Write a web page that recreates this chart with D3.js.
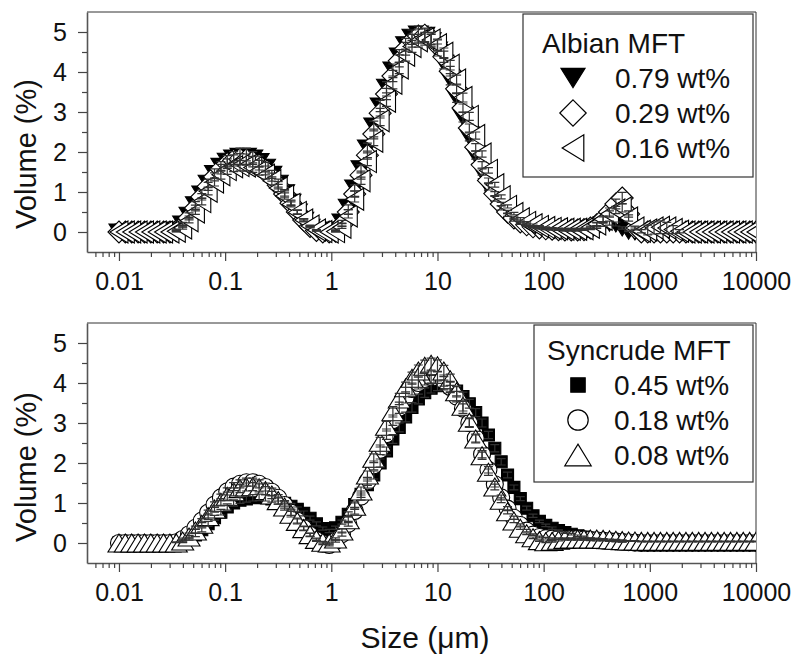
<!DOCTYPE html>
<html><head><meta charset="utf-8">
<script src="https://cdn.jsdelivr.net/npm/d3@7"></script>
<style>
body{margin:0;background:#fff;}
text{font-family:Arial,"Liberation Sans",sans-serif;fill:#111;}
</style>
</head><body>
<svg id="chart" width="798" height="656"></svg>
<script>
// ---- DATA ----
const sizes = [0.01,0.01148,0.01318,0.01514,0.01738,0.01995,0.02291,0.0263,0.0302,0.03467,
0.03981,0.04571,0.05248,0.06026,0.06918,0.07943,0.0912,0.1047,0.1202,0.138,
0.1585,0.182,0.2089,0.2399,0.2754,0.3162,0.3631,0.4169,0.4786,0.5495,
0.631,0.7244,0.8318,0.955,1.096,1.259,1.445,1.66,1.905,2.188,
2.512,2.884,3.311,3.802,4.365,5.012,5.754,6.607,7.586,8.71,
10,11.48,13.18,15.14,17.38,19.95,22.91,26.3,30.2,34.67,
39.81,45.71,52.48,60.26,69.18,79.43,91.2,104.7,120.2,138,
158.5,182,208.9,239.9,275.4,316.2,363.1,416.9,478.6,549.5,
631,724.4,831.8,955,1096,1259,1445,1660,1905,2188,
2512,2884,3311,3802,4365,5012,5754,6607,7586,8710,10000];

const albian079 = [0,0,0,0,0,0,0,0,0,0.05,
0.2,0.42,0.68,0.95,1.22,1.46,1.64,1.77,1.85,1.89,
1.89,1.85,1.76,1.62,1.44,1.22,0.98,0.74,0.5,0.29,
0.12,0.03,0,0,0.05,0.25,0.62,1.1,1.58,2.1,
2.65,3.15,3.62,4.05,4.4,4.68,4.87,4.95,4.92,4.78,
4.55,4.22,3.82,3.36,2.87,2.38,1.92,1.5,1.13,0.83,
0.6,0.43,0.3,0.22,0.16,0.12,0.1,0.08,0.07,0.06,
0.05,0.05,0.05,0.06,0.08,0.12,0.18,0.22,0.2,0.1,
0.02,0,0,0,0,0,0,0,0,0,
0,0,0,0,0,0,0,0,0,0,0];
const albian029 = [0,0,0,0,0,0,0,0,0,0.03,
0.15,0.35,0.6,0.88,1.14,1.38,1.57,1.71,1.79,1.82,
1.81,1.76,1.67,1.54,1.37,1.17,0.95,0.72,0.5,0.3,
0.14,0.04,0,0,0.02,0.18,0.5,0.95,1.42,1.92,
2.45,2.97,3.45,3.9,4.28,4.58,4.78,4.9,4.92,4.84,
4.66,4.38,4.02,3.58,3.1,2.6,2.12,1.68,1.29,0.96,
0.7,0.5,0.35,0.25,0.18,0.13,0.1,0.08,0.07,0.06,
0.05,0.05,0.05,0.06,0.1,0.18,0.32,0.5,0.7,0.85,
0.45,0.1,0,0,0,0,0,0,0,0,
0,0,0,0,0,0,0,0,0,0,0];
const albian016 = [0,0,0,0,0,0,0,0,0,0.02,
0.1,0.28,0.5,0.76,1.02,1.25,1.43,1.56,1.63,1.66,
1.65,1.61,1.53,1.42,1.28,1.1,0.9,0.69,0.49,0.3,
0.15,0.05,0.01,0,0.01,0.12,0.4,0.82,1.28,1.76,
2.27,2.78,3.27,3.72,4.1,4.42,4.64,4.78,4.83,4.8,
4.68,4.47,4.17,3.8,3.36,2.89,2.41,1.95,1.54,1.18,
0.88,0.64,0.46,0.33,0.24,0.18,0.14,0.11,0.09,0.08,
0.07,0.07,0.07,0.08,0.12,0.2,0.32,0.45,0.55,0.6,
0.35,0.1,0.02,0.05,0.1,0.12,0.1,0.06,0.02,0,
0,0,0,0,0,0,0,0,0,0,0];

const syncrude045 = [0,0,0,0,0,0,0,0,0,0,
0.03,0.1,0.2,0.33,0.48,0.63,0.77,0.9,1.0,1.07,
1.1,1.13,1.14,1.13,1.1,1.05,0.99,0.92,0.84,0.74,
0.62,0.48,0.36,0.3,0.38,0.52,0.72,0.96,1.22,1.46,
1.7,2.0,2.3,2.6,2.89,3.15,3.39,3.6,3.76,3.87,
3.93,3.95,3.9,3.8,3.66,3.48,3.26,3.0,2.7,2.37,
2.03,1.7,1.39,1.11,0.87,0.68,0.54,0.44,0.37,0.31,
0.26,0.22,0.18,0.15,0.12,0.1,0.08,0.06,0.05,0.04,
0.03,0.02,0.01,0,0,0,0,0,0,0,
0,0,0,0,0,0,0,0,0,0,0];
const syncrude018 = [0,0,0,0,0,0,0,0,0,0.02,
0.1,0.22,0.38,0.56,0.76,0.96,1.14,1.29,1.41,1.48,
1.52,1.52,1.48,1.4,1.28,1.13,0.95,0.76,0.56,0.37,
0.2,0.07,-0.02,-0.05,0.05,0.22,0.48,0.8,1.16,1.54,
1.94,2.33,2.72,3.07,3.38,3.64,3.85,4.0,4.1,4.15,
4.14,4.06,3.9,3.66,3.36,3.0,2.62,2.22,1.83,1.47,
1.14,0.86,0.63,0.45,0.31,0.21,0.15,0.12,0.11,0.11,
0.11,0.1,0.1,0.09,0.08,0.07,0.06,0.05,0.04,0.03,
0.02,0.01,0,0,0,0,0,0,0,0,
0,0,0,0,0,0,0,0,0,0,0];
const syncrude008 = [0,0,0,0,0,0,0,0,0,0,
0.05,0.15,0.3,0.47,0.66,0.85,1.02,1.17,1.28,1.36,
1.4,1.41,1.38,1.31,1.2,1.06,0.9,0.72,0.54,0.36,
0.21,0.09,0.02,0,0.1,0.3,0.58,0.92,1.3,1.7,
2.12,2.52,2.92,3.28,3.6,3.88,4.12,4.3,4.42,4.47,
4.43,4.3,4.08,3.78,3.42,3.02,2.6,2.18,1.77,1.4,
1.07,0.78,0.55,0.37,0.23,0.13,0.06,0.03,0.04,0.07,
0.09,0.1,0.1,0.1,0.1,0.1,0.09,0.08,0.07,0.06,
0.05,0.05,0.04,0.04,0.04,0.04,0.04,0.04,0.04,0.04,
0.04,0.04,0.04,0.04,0.04,0.04,0.04,0.04,0.04,0.04,0.04];

// error bar half-lengths
const errA079 = [0,0,0,0,0,0,0,0,0,0.02,
0.04,0.06,0.08,0.1,0.1,0.12,0.12,0.14,0.16,0.2,
0.2,0.16,0.14,0.12,0.1,0.1,0.08,0.06,0.05,0.04,
0.02,0.01,0,0,0.02,0.04,0.06,0.08,0.1,0.12,
0.12,0.14,0.14,0.15,0.16,0.16,0.18,0.2,0.18,0.16,
0.15,0.14,0.14,0.12,0.12,0.1,0.1,0.08,0.08,0.06,
0.05,0.04,0.03,0.03,0.02,0.02,0.02,0.02,0.02,0.02,
0.02,0.02,0.02,0.02,0.02,0.03,0.04,0.05,0.05,0.03,
0.01,0,0,0,0,0,0,0,0,0,
0,0,0,0,0,0,0,0,0,0,0];
const errA029 = [0,0,0,0,0,0,0,0,0,0.02,
0.03,0.05,0.07,0.08,0.1,0.1,0.12,0.12,0.14,0.14,
0.14,0.13,0.12,0.11,0.1,0.09,0.08,0.06,0.05,0.03,
0.02,0.01,0,0,0.02,0.04,0.06,0.08,0.1,0.1,
0.12,0.12,0.14,0.14,0.15,0.16,0.16,0.18,0.16,0.15,
0.14,0.14,0.12,0.12,0.1,0.1,0.09,0.08,0.06,0.05,
0.04,0.04,0.03,0.02,0.02,0.02,0.02,0.02,0.02,0.02,
0.02,0.02,0.02,0.02,0.03,0.05,0.08,0.1,0.12,0.14,
0.08,0.03,0,0,0,0,0,0,0,0,
0,0,0,0,0,0,0,0,0,0,0];
const errA016 = [0,0,0,0,0,0,0,0,0,0.02,
0.03,0.05,0.06,0.08,0.09,0.1,0.11,0.12,0.12,0.13,
0.13,0.12,0.11,0.1,0.1,0.09,0.08,0.06,0.05,0.03,
0.02,0.01,0,0,0.01,0.03,0.05,0.07,0.09,0.1,
0.11,0.12,0.13,0.14,0.14,0.15,0.15,0.16,0.16,0.15,
0.14,0.13,0.12,0.12,0.11,0.1,0.09,0.08,0.07,0.06,
0.05,0.04,0.03,0.03,0.02,0.02,0.02,0.02,0.02,0.02,
0.02,0.02,0.02,0.02,0.03,0.04,0.06,0.08,0.09,0.1,
0.08,0.05,0.04,0.12,0.15,0.16,0.14,0.1,0.04,0,
0,0,0,0,0,0,0,0,0,0,0];
const errS045 = [0,0,0,0,0,0,0,0,0,0,
0.02,0.03,0.04,0.05,0.06,0.06,0.07,0.08,0.08,0.08,
0.08,0.08,0.08,0.08,0.08,0.08,0.07,0.07,0.06,0.06,
0.05,0.05,0.04,0.04,0.04,0.05,0.06,0.07,0.08,0.09,
0.1,0.1,0.1,0.11,0.11,0.12,0.12,0.12,0.12,0.12,
0.12,0.12,0.12,0.12,0.11,0.11,0.1,0.1,0.09,0.09,
0.08,0.07,0.06,0.05,0.05,0.04,0.03,0.03,0.03,0.02,
0.02,0.02,0.02,0.02,0.01,0.01,0.01,0.01,0.01,0.01,
0,0,0,0,0,0,0,0,0,0,
0,0,0,0,0,0,0,0,0,0,0];
const errS018 = [0,0,0,0,0,0,0,0,0,0.01,
0.02,0.03,0.04,0.05,0.06,0.07,0.08,0.09,0.1,0.1,
0.1,0.1,0.1,0.1,0.09,0.08,0.08,0.07,0.06,0.05,
0.04,0.03,0.02,0.02,0.03,0.05,0.06,0.08,0.09,0.1,
0.11,0.12,0.13,0.13,0.14,0.14,0.15,0.15,0.15,0.15,
0.15,0.14,0.14,0.13,0.12,0.11,0.1,0.09,0.08,0.07,
0.06,0.05,0.04,0.03,0.03,0.02,0.02,0.02,0.02,0.02,
0.02,0.02,0.02,0.02,0.02,0.02,0.01,0.01,0.01,0.01,
0,0,0,0,0,0,0,0,0,0,
0,0,0,0,0,0,0,0,0,0,0];
const errS008 = [0,0,0,0,0,0,0,0,0,0,
0.02,0.03,0.05,0.06,0.07,0.08,0.09,0.1,0.1,0.1,
0.1,0.1,0.1,0.1,0.09,0.09,0.08,0.07,0.06,0.05,
0.04,0.03,0.02,0.02,0.03,0.05,0.07,0.08,0.1,0.1,
0.11,0.12,0.12,0.13,0.14,0.14,0.15,0.15,0.15,0.15,
0.15,0.14,0.14,0.13,0.12,0.11,0.1,0.09,0.08,0.07,
0.06,0.05,0.04,0.03,0.02,0.02,0.02,0.02,0.02,0.02,
0.02,0.02,0.02,0.02,0.02,0.02,0.02,0.02,0.02,0.02,
0.01,0.01,0.01,0.01,0.01,0.01,0.01,0.01,0.01,0.01,
0.01,0.01,0.01,0.01,0.01,0.01,0.01,0.01,0.01,0.01,0.01];

const xTickValues = [0.01, 0.1, 1, 10, 100, 1000, 10000];
const yTickValues = [0, 1, 2, 3, 4, 5];
const xLabel = "Size (μm)";
const yLabel = "Volume (%)";

const panels = [
  { title: "Albian MFT",
    series: [
      { name: "0.79 wt%", values: albian079, err: errA079, shape: "downTri", fill: "#000" },
      { name: "0.29 wt%", values: albian029, err: errA029, shape: "diamond", fill: "#fff" },
      { name: "0.16 wt%", values: albian016, err: errA016, shape: "leftTri", fill: "#fff" } ] },
  { title: "Syncrude MFT",
    series: [
      { name: "0.45 wt%", values: syncrude045, err: errS045, shape: "square", fill: "#000" },
      { name: "0.18 wt%", values: syncrude018, err: errS018, shape: "circle", fill: "#fff" },
      { name: "0.08 wt%", values: syncrude008, err: errS008, shape: "upTri", fill: "#fff" } ] }
];

// ---- DRAWING ----
const svg = d3.select("#chart");
const left = 87, right = 756;
const layout = [
  { top: 12, bottom: 252, legend: {x: 523, y: 14, w: 230, h: 163, titleX: 542, titleY: 53, symX: 573, textX: 615, rows: [88, 123, 158]}, ytitleY: 154 },
  { top: 323, bottom: 563, legend: {x: 534, y: 325, w: 219, h: 157, titleX: 547, titleY: 360, symX: 578, textX: 614, rows: [395, 430, 465]}, ytitleY: 467 }
];

function shapePath(shape, s) {
  switch (shape) {
    case "downTri": { const w = 20*s, h = 16*s; return `M${-w/2},${-h/2}L${w/2},${-h/2}L0,${h/2}Z`; }
    case "upTri": { const w = 22*s, h = 18*s; return `M${-w/2},${h/2}L${w/2},${h/2}L0,${-h/2}Z`; }
    case "leftTri": { const w = 18*s, h = 22*s; return `M${w/2},${-h/2}L${w/2},${h/2}L${-w/2},0Z`; }
    case "diamond": { const w = 22*s, h = 22*s; return `M0,${-h/2}L${w/2},0L0,${h/2}L${-w/2},0Z`; }
    case "square": { const a = 12*s; return `M${-a/2},${-a/2}h${a}v${a}h${-a}Z`; }
    case "circle": { const r = 8.5*s; return `M${r},0A${r},${r} 0 1,1 ${-r},0A${r},${r} 0 1,1 ${r},0Z`; }
  }
}

const x = d3.scaleLog().domain([0.005, 10000]).range([left, right]);
const minorX = [];
[0.001, 0.01, 0.1, 1, 10, 100, 1000].forEach(d => { for (let k = 2; k <= 9; k++) { const v = d*k; if (v > 0.0055 && v < 10000) minorX.push(v); } });

panels.forEach((p, pi) => {
  const L = layout[pi];
  const y = d3.scaleLinear().domain([-0.5, 5.5]).range([L.bottom, L.top]);
  const g = svg.append("g");

  const clipId = "clip" + pi;
  svg.append("clipPath").attr("id", clipId).append("rect")
    .attr("x", left).attr("y", L.top).attr("width", right - left).attr("height", L.bottom - L.top);

  g.append("line").attr("x1", left).attr("x2", right).attr("y1", L.top).attr("y2", L.top).attr("stroke", "#333").attr("stroke-width", 1);
  g.append("line").attr("x1", right).attr("x2", right).attr("y1", L.top).attr("y2", L.bottom).attr("stroke", "#333").attr("stroke-width", 1);

  const xa = g.append("g").attr("transform", `translate(0,${L.bottom})`)
    .call(d3.axisBottom(x).tickValues(xTickValues).tickFormat(d => String(d)).tickSize(9).tickPadding(11).tickSizeOuter(0));
  const xm = g.append("g").attr("transform", `translate(0,${L.bottom})`)
    .call(d3.axisBottom(x).tickValues(minorX).tickFormat("").tickSize(5).tickSizeOuter(0));
  xm.select(".domain").remove();
  const ya = g.append("g").attr("transform", `translate(${left},0)`)
    .call(d3.axisLeft(y).tickValues(yTickValues).tickFormat(d3.format("d")).tickSize(9).tickPadding(11).tickSizeOuter(0));
  const ym = g.append("g").attr("transform", `translate(${left},0)`)
    .call(d3.axisLeft(y).tickValues([0.5, 1.5, 2.5, 3.5, 4.5]).tickFormat("").tickSize(5).tickSizeOuter(0));
  ym.select(".domain").remove();
  [xa, xm, ya, ym].forEach(a => {
    a.selectAll("line").attr("stroke", "#444").attr("stroke-width", 1.2);
    a.select(".domain").attr("stroke", "#555").attr("stroke-width", 1.6);
    a.selectAll("text").style("font-size", "25px").attr("fill", "#111");
  });

  g.append("text").attr("transform", `translate(36,${L.ytitleY}) rotate(-90)`)
    .attr("text-anchor", "middle").style("font-size", "29px").text(yLabel);

  const dg = g.append("g").attr("clip-path", `url(#${clipId})`);
  p.series.forEach(s => {
    dg.append("g").selectAll("path").data(sizes.map((sz, i) => ({sz, v: s.values[i]})))
      .join("path")
      .attr("d", shapePath(s.shape, 1))
      .attr("transform", d => `translate(${x(d.sz)},${y(d.v)})`)
      .attr("fill", s.fill).attr("stroke", "#000").attr("stroke-width", 1.1);
  });
  p.series.forEach(s => {
    const eg = dg.append("g").attr("stroke", "#333").attr("stroke-width", 1.2).attr("fill", "none");
    sizes.forEach((sz, i) => {
      const e = s.err[i];
      if (!e) return;
      const cx = x(sz), y1 = y(s.values[i] - e), y2 = y(s.values[i] + e);
      eg.append("path").attr("d", `M${cx},${y1}V${y2}M${cx-4.5},${y1}h9M${cx-4.5},${y2}h9`);
    });
  });

  const lg = L.legend;
  g.append("rect").attr("x", lg.x).attr("y", lg.y).attr("width", lg.w).attr("height", lg.h)
    .attr("fill", "#fff").attr("stroke", "#333").attr("stroke-width", 1.2);
  g.append("text").attr("x", lg.titleX).attr("y", lg.titleY).style("font-size", "28px").text(p.title);
  p.series.forEach((s, i) => {
    g.append("path").attr("d", shapePath(s.shape, 1.2))
      .attr("transform", `translate(${lg.symX},${lg.rows[i] - 10})`)
      .attr("fill", s.fill).attr("stroke", "#000").attr("stroke-width", 1.2);
    g.append("text").attr("x", lg.textX).attr("y", lg.rows[i]).style("font-size", "28px").text(s.name);
  });
});

svg.append("text").attr("x", 425).attr("y", 648).attr("text-anchor", "middle").style("font-size", "30px").text(xLabel);
</script>
</body></html>
